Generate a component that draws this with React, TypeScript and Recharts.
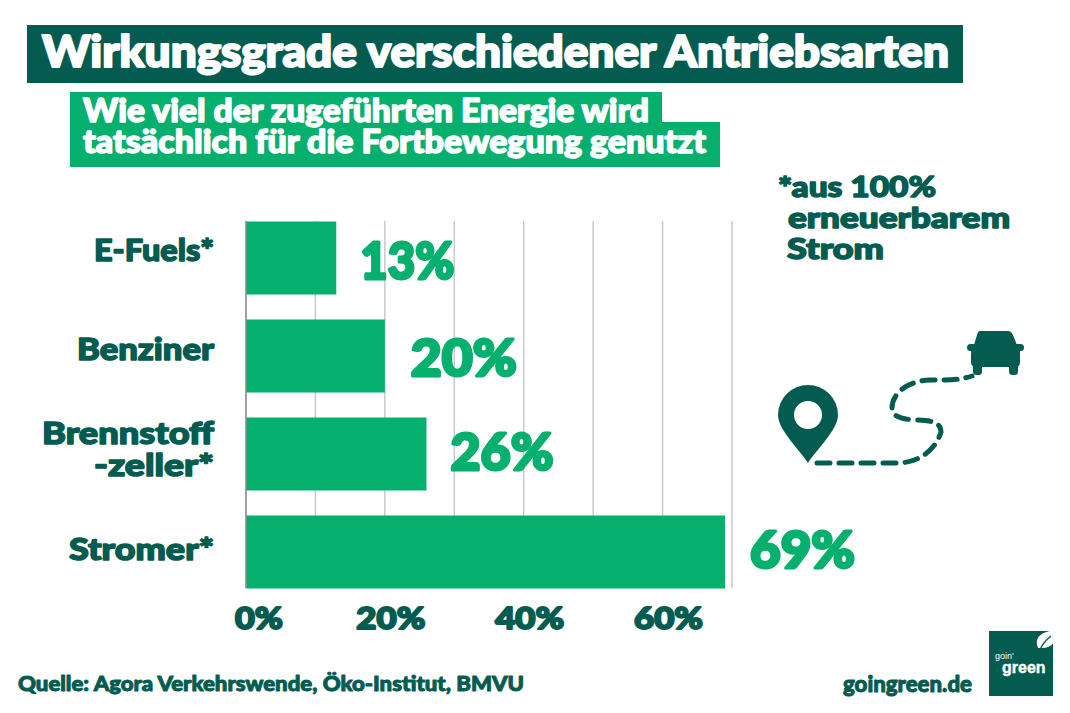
import { BarChart, Bar, XAxis, YAxis, CartesianGrid, LabelList } from "recharts";

const categories = ["E-Fuels*", "Benziner", "Brennstoff\n-zeller*", "Stromer*"];
const efficiency = [13, 20, 26, 69];
const xTicks = [0, 20, 40, 60];
const gridValues = [0, 10, 20, 30, 40, 50, 60, 70];

const data = categories.map((name, i) => ({ name, value: efficiency[i] }));

const DARK = "#045c50";
const GREEN = "#05b06e";
const FONT = "Lato, sans-serif";
const LOGO_FONT = "'Liberation Sans', sans-serif";

// thick display look: black weight plus a thin outline in the same colour
function Heavy({ x, y, size, fill, width, anchor = "start", sw = 1, children }: any) {
  return (
    <text
      x={x}
      y={y}
      fontSize={size}
      fontFamily={FONT}
      fontWeight={900}
      fill={fill}
      stroke={fill}
      strokeWidth={sw}
      strokeLinejoin="round"
      textAnchor={anchor}
      textLength={width}
      lengthAdjust="spacingAndGlyphs"
    >
      {children}
    </text>
  );
}

function CategoryTick({ y, payload }: any) {
  const lines = String(payload.value).split("\n");
  const widths: Record<string, number> = {
    "E-Fuels*": 120,
    Benziner: 137,
    Brennstoff: 172,
    "-zeller*": 120,
    "Stromer*": 145,
  };
  // the labels do not sit exactly on the bar centres in the original
  const nudge: Record<string, number> = {
    "E-Fuels*": 3,
    Benziner: 4,
    Brennstoff: -10,
    "-zeller*": 22,
    "Stromer*": 8,
  };
  return (
    <g>
      {lines.map((line) => (
        <Heavy key={line} x={214} y={y + nudge[line]} size={31} fill={DARK} anchor="end" sw={1.5} width={widths[line]}>
          {line}
        </Heavy>
      ))}
    </g>
  );
}

function PercentTick({ x, y, payload }: any) {
  const shift = payload.value === 0 ? 13 : 6;
  return (
    <Heavy x={x + shift} y={y + 33} size={31} fill={DARK} anchor="middle" sw={2} width={payload.value === 0 ? 48 : 69}>
      {payload.value}%
    </Heavy>
  );
}

function ValueLabel({ x, y, width, height, value }: any) {
  const dx: Record<number, number> = { 13: 0, 20: 2, 26: 0, 69: 1 };
  const dy: Record<number, number> = { 13: 21, 20: 20, 26: 16, 69: 16 };
  const w: Record<number, number> = { 13: 94, 20: 106, 26: 103, 69: 105 };
  return (
    <Heavy x={x + width + 24 + dx[value]} y={y + height / 2 + dy[value]} size={52} fill={GREEN} sw={3} width={w[value]}>
      {value}%
    </Heavy>
  );
}

function Overlay() {
  return (
    <svg width={1070} height={713} style={{ position: "absolute", left: 0, top: 0 }}>
      <rect x={27} y={25} width={936} height={58} fill={DARK} />
      <Heavy x={42} y={67} size={43} fill="#fff" sw={2} width={907}>
        Wirkungsgrade verschiedener Antriebsarten
      </Heavy>

      <rect x={70} y={92} width={592} height={40} fill={GREEN} />
      <rect x={70} y={122} width={650} height={45} fill={GREEN} />
      <Heavy x={83} y={122} size={32} fill="#fff" sw={1.5} width={566}>
        Wie viel der zugeführten Energie wird
      </Heavy>
      <Heavy x={83} y={153} size={32} fill="#fff" sw={1.5} width={623}>
        tatsächlich für die Fortbewegung genutzt
      </Heavy>

      <Heavy x={778} y={197} size={29} fill={DARK} sw={1.5} width={158}>
        *aus 100%
      </Heavy>
      <Heavy x={788} y={228} size={29} fill={DARK} sw={1.5} width={222}>
        erneuerbarem
      </Heavy>
      <Heavy x={787} y={259} size={29} fill={DARK} sw={1.5} width={97}>
        Strom
      </Heavy>

      {/* pin */}
      <path
        d="M808 463 C800 450 778 430 778 415 A30 30 0 0 1 838 415 C838 430 816 450 808 463 Z M808 401 A14 14 0 1 0 808 429 A14 14 0 1 0 808 401 Z"
        fill={DARK}
        fillRule="evenodd"
      />
      {/* route */}
      <path
        d="M817 463 L900 463 C925 461 937 445 941 432 C941 422 930 420 915 420 C900 419 892 416 892 408 C892 395 905 381 930 380 C950 380 960 380 972 376"
        fill="none"
        stroke={DARK}
        strokeWidth={5}
        strokeDasharray="13 9"
        strokeLinecap="round"
      />
      {/* car */}
      <path
        d="M980 331 L1008 331 Q1011 331 1013 335 L1017 345 Q1020 348 1020 354 L1020 362 Q1020 367 1016 367 L976 367 Q971 367 971 362 L971 354 Q971 348 974 345 L977 335 Q978 331 980 331 Z"
        fill={DARK}
      />
      <rect x={967} y={344} width={13} height={7} rx={3.5} fill={DARK} />
      <rect x={1011} y={344} width={13} height={7} rx={3.5} fill={DARK} />
      <rect x={973} y={360} width={9} height={15} rx={3.5} fill={DARK} />
      <rect x={1009} y={360} width={9} height={15} rx={3.5} fill={DARK} />

      <Heavy x={18} y={691} size={21} fill={DARK} sw={1} width={506}>
        Quelle: Agora Verkehrswende, Öko-Institut, BMVU
      </Heavy>
      <Heavy x={843} y={692} size={23} fill={DARK} sw={1} width={129}>
        goingreen.de
      </Heavy>

      {/* logo */}
      <rect x={989} y={631} width={64} height={65} fill={DARK} />
      <text x={995} y={659} fontSize={9} fontFamily={LOGO_FONT} fill="#fff">
        goin'
      </text>
      <text x={1002} y={673} fontSize={16} fontFamily={LOGO_FONT} fontWeight={700} fill="#fff" stroke="#fff" strokeWidth={0.4}>
        green
      </text>
      {/* leaf */}
      <path d="M1038 648 C1033 636 1044 631 1057 630 C1057 641 1052 648 1042 648 Z" fill="#fff" />
      <path d="M1040 650 C1042 644 1046 640 1051 636" fill="none" stroke={DARK} strokeWidth={1.5} />
    </svg>
  );
}

export default function App() {
  return (
    <div style={{ position: "absolute", left: 0, top: 0, width: 1070, height: 713, background: "#fff" }}>
      <BarChart
        width={1070}
        height={713}
        data={data}
        layout="vertical"
        margin={{ top: 221, right: 338, bottom: 65, left: 0 }}
      >
        <CartesianGrid
          horizontal={false}
          stroke="#c9c9c9"
          strokeWidth={1.5}
          verticalValues={gridValues}
        />
        <XAxis
          type="number"
          domain={[0, 70]}
          ticks={xTicks}
          height={60}
          axisLine={false}
          tickLine={false}
          tick={<PercentTick />}
        />
        <YAxis
          type="category"
          dataKey="name"
          width={246}
          padding={{ top: -12.5, bottom: -12.5 }}
          axisLine={{ stroke: "#8f8f8f", strokeWidth: 1.5 }}
          tickLine={false}
          interval={0}
          tick={<CategoryTick />}
        />
        <Bar dataKey="value" fill={GREEN} barSize={73} isAnimationActive={false}>
          <LabelList dataKey="value" content={<ValueLabel />} />
        </Bar>
      </BarChart>
      <Overlay />
    </div>
  );
}
